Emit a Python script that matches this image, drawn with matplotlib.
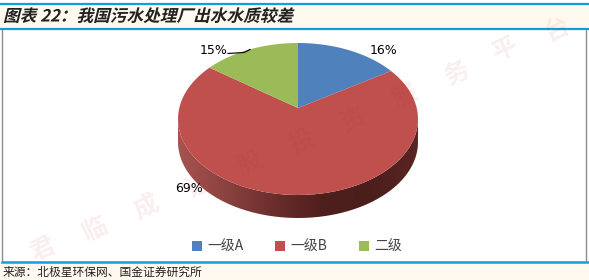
import numpy as np
import matplotlib
matplotlib.use("Agg")
import matplotlib.pyplot as plt
from matplotlib.colors import LinearSegmentedColormap
from matplotlib.patches import Rectangle, PathPatch
from matplotlib.patheffects import AbstractPathEffect
from matplotlib.path import Path
from matplotlib.transforms import Affine2D

plt.rcParams['font.family'] = ['Noto Sans CJK SC', 'DejaVu Sans']

# data
categories = ['一级A', '一级B', '二级']
shares = [16, 69, 15]
colors = ['#4f81bd', '#c0504d', '#9bbb59']
title = '图表 22：我国污水处理厂出水水质较差'
source = '来源：北极星环保网、国金证券研究所'
watermark = ['君', '临', '成', '证', '股', '投', '资', '服', '务', '平', '台']
wm_x = [43, 95, 147, 199, 250, 302, 353, 405, 457, 505, 557]
wm_y = [250, 230, 208, 186, 163, 142, 120, 97, 73, 50, 30]

W, H = 589, 280


class Slant(AbstractPathEffect):
    # the CJK fonts have no italic, so shear the glyphs
    def draw_path(self, renderer, gc, tpath, affine, rgbFace=None):
        renderer.draw_path(gc, tpath, Affine2D().skew_deg(14, 0) + affine, rgbFace)


fig = plt.figure(figsize=(W / 100, H / 100), dpi=100, facecolor='white')

# background layer in pixel coordinates
bg = fig.add_axes([0, 0, 1, 1], zorder=0)
bg.set_xlim(0, W)
bg.set_ylim(H, 0)
bg.axis('off')
bg.add_patch(Rectangle((0, 5), W, 24, fc='#fff9ef', ec='none'))
bg.add_patch(Rectangle((0, 263), W, 17, fc='#fff9ef', ec='none'))
bg.plot([0, W], [4, 4], color='#0f9ee0', lw=1.6)
bg.plot([0, W], [29, 29], color='#0f9ee0', lw=1.6)
bg.plot([2, W], [262, 262], color='#0f9ee0', lw=1.8)
bg.plot([1.5, 1.5], [30, 261], color='#8c8c8c', lw=1)
bg.plot([586, 586], [30, 261], color='#8c8c8c', lw=1)

tt = bg.text(3, 16.5, title, fontsize=12, fontweight='bold', color='#222222', va='center')
tt.set_path_effects([Slant()])
bg.text(3, 272, source, fontsize=8.5, color='#222222', va='center')

# pie with perspective: the apex sits above the middle of the ellipse
apex_x, apex_y, rx, up, down, wall = 298, 108, 120, 65, 87, 23
k = (down - up) / (down + up)
sy = up * (1 + k)
sx = rx * np.sqrt(1 - k ** 2)


def tilt(theta):
    w = 1 + k * np.sin(theta)
    return sx * np.cos(theta) / w, sy * np.sin(theta) / w


ax = fig.add_axes([(apex_x - rx) / W, 1 - (apex_y + down + wall) / H, 2 * rx / W, (up + down + wall) / H], zorder=1)
wedges, _ = ax.pie(shares, startangle=90, counterclock=False)
slices = []
for w, c in zip(wedges, colors):
    t = np.radians(np.linspace(w.theta1, w.theta2, 80))
    x, y = tilt(t)
    slices += ax.fill(np.r_[0, x], np.r_[0, y], color=c, lw=0, zorder=3)
    w.remove()

# side wall, shaded left to right
t = np.radians(np.linspace(180 + np.degrees(np.arcsin(k)), 360 - np.degrees(np.arcsin(k)), 160))
x, y = tilt(t)
clip = PathPatch(Path(np.c_[np.r_[x, x[::-1]], np.r_[y, y[::-1] - wall]]), fc='none', ec='none', transform=ax.transData)
ax.add_patch(clip)
shade = LinearSegmentedColormap.from_list('wall', ['#a85350', '#8a4240', '#6a2e2c', '#4e1f1d', '#4b1e1c', '#5a2523'])
img = ax.imshow(np.linspace(0, 1, 256)[None, :], cmap=shade, extent=(-rx, rx, -down - wall, 0),
                aspect='auto', zorder=2)
img.set_clip_path(clip)
ax.set_aspect('auto')
ax.set_xlim(-rx, rx)
ax.set_ylim(-down - wall, up)
ax.axis('off')

# top layer: labels, legend and watermark
fg = fig.add_axes([0, 0, 1, 1], zorder=2)
fg.set_xlim(0, W)
fg.set_ylim(H, 0)
fg.axis('off')
fg.patch.set_alpha(0)
for v, lx, ly in zip(shares, [383.5, 188.5, 213.5], [51, 189, 50]):
    fg.text(lx, ly, f'{v}%', fontsize=9, family='DejaVu Sans', color='#000000', ha='center', va='center')
fg.plot([228, 244, 250], [53.5, 52.5, 49.5], color='#111111', lw=0.9)

fg.legend(slices, categories, loc='center', bbox_to_anchor=(297, 246.5), bbox_transform=fg.transData,
          ncol=3, frameon=False, fontsize=10, labelcolor='#444444', handlelength=0.72, handleheight=0.72,
          handletextpad=0.36, columnspacing=2.3)

for ch, x, y in zip(watermark, wm_x, wm_y):
    fg.text(x, y, ch, fontsize=18, color='#b03030', alpha=0.08, rotation=25,
            ha='center', va='center', fontweight='bold')

fig.savefig('out.png', dpi=100)
